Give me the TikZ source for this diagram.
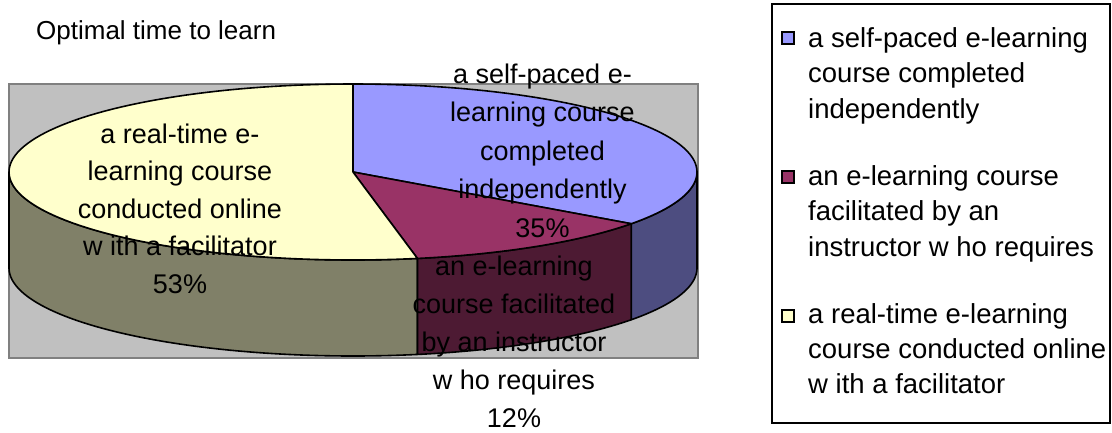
\documentclass[tikz,border=0pt]{standalone}
\usepackage{fontspec}
\setmainfont{Liberation Sans}
\definecolor{bTop}{HTML}{9999FF}
\definecolor{bSide}{HTML}{4D4D80}
\definecolor{mTop}{HTML}{993366}
\definecolor{mSide}{HTML}{4D1A33}
\definecolor{yTop}{HTML}{FFFFCC}
\definecolor{ySide}{HTML}{808068}
\definecolor{plotgray}{HTML}{C0C0C0}
\definecolor{plotedge}{HTML}{808080}
\begin{document}
\begin{tikzpicture}[x=1pt,y=-1pt,
  lbl/.style={font=\fontsize{27}{32}\selectfont, inner sep=0pt, anchor=base},
  lgd/.style={font=\fontsize{27.5}{32}\selectfont, inner sep=0pt, anchor=base west},
  edge/.style={draw=black, line width=1.6pt, line join=round},
  swatch/.style={draw=black, line width=1.3pt}]
\useasboundingbox (0,0) rectangle (1112,432);
\fill[white] (0,0) rectangle (1112,432);
% plot area
\filldraw[fill=plotgray, draw=plotedge, line width=1.2pt] (9,84) rectangle (698,358);
\def\cx{353}\def\cy{172}\def\rx{344}\def\ry{88}\def\dd{96}
% side faces
\filldraw[edge, fill=ySide] plot[domain=180:280.8, samples=80] ({\cx+\rx*cos(\x)},{\cy-\ry*sin(\x)})
  -- plot[domain=280.8:180, samples=80] ({\cx+\rx*cos(\x)},{\cy+\dd-\ry*sin(\x)}) -- cycle;
\filldraw[edge, fill=mSide] plot[domain=280.8:324, samples=40] ({\cx+\rx*cos(\x)},{\cy-\ry*sin(\x)})
  -- plot[domain=324:280.8, samples=40] ({\cx+\rx*cos(\x)},{\cy+\dd-\ry*sin(\x)}) -- cycle;
\filldraw[edge, fill=bSide] plot[domain=324:360, samples=40] ({\cx+\rx*cos(\x)},{\cy-\ry*sin(\x)})
  -- plot[domain=360:324, samples=40] ({\cx+\rx*cos(\x)},{\cy+\dd-\ry*sin(\x)}) -- cycle;
% top faces
\filldraw[edge, fill=bTop] (\cx,\cy) -- plot[domain=-36:90, samples=80] ({\cx+\rx*cos(\x)},{\cy-\ry*sin(\x)}) -- cycle;
\filldraw[edge, fill=mTop] (\cx,\cy) -- plot[domain=-79.2:-36, samples=40] ({\cx+\rx*cos(\x)},{\cy-\ry*sin(\x)}) -- cycle;
\filldraw[edge, fill=yTop] (\cx,\cy) -- plot[domain=90:280.8, samples=100] ({\cx+\rx*cos(\x)},{\cy-\ry*sin(\x)}) -- cycle;
% title
\node[lbl, anchor=base west, font=\fontsize{26}{30}\selectfont] (title) at (36,39) {Optimal time to learn};
% pie labels
\foreach \t [count=\i] in {a real-time e-, learning course, conducted online, w ith a facilitator, 53\%}
  \node[lbl] (ylab\i) at (180,{143+37.5*(\i-1)}) {\t};
\foreach \t [count=\i] in {a self-paced e-, learning course, completed, independently, 35\%}
  \node[lbl] (blab\i) at (542.5,{83+38.5*(\i-1)}) {\t};
\foreach \t [count=\i] in {an e-learning, course facilitated, by an instructor, w ho requires, 12\%}
  \node[lbl] (mlab\i) at (514,{275+38*(\i-1)}) {\t};
% legend
\draw[line width=1.5pt] (772,4) rectangle (1110,423);
\filldraw[swatch, fill=bTop] (782,32) rectangle (794,44);
\filldraw[swatch, fill=mTop] (782,171) rectangle (794,183);
\filldraw[swatch, fill=yTop] (782,310) rectangle (794,322);
\foreach \t [count=\i] in {a self-paced e-learning, course completed, independently}
  \node[lgd] (lgb\i) at (808,{47+35.5*(\i-1)}) {\t};
\foreach \t [count=\i] in {an e-learning course, facilitated by an, instructor w ho requires}
  \node[lgd] (lgm\i) at (808,{185+35.5*(\i-1)}) {\t};
\foreach \t [count=\i] in {a real-time e-learning, course conducted online, w ith a facilitator}
  \node[lgd] (lgy\i) at (808,{323+35*(\i-1)}) {\t};
\end{tikzpicture}
\end{document}
